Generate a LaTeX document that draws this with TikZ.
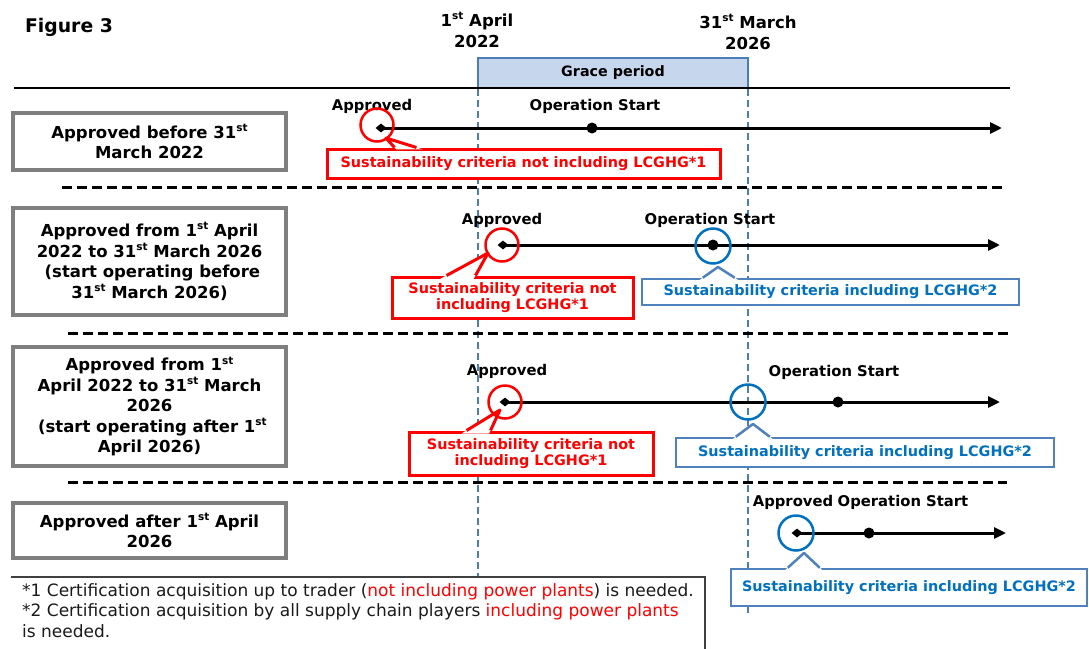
\documentclass[tikz,border=0pt]{standalone}
\usepackage{fontspec}
\setmainfont{DejaVu Sans}
\usetikzlibrary{arrows.meta,shapes.geometric,calc}
\definecolor{bxgray}{HTML}{7F7F7F}
\definecolor{myred}{HTML}{FF0000}
\definecolor{cblue}{HTML}{0070C0}
\definecolor{bblue}{HTML}{4F81BD}
\definecolor{gfill}{HTML}{C6D6EC}
\definecolor{dblue}{HTML}{4A7EBB}
\definecolor{ftext}{HTML}{1A1A1A}
\newcommand\myLf{\fontsize{16.5}{20.5}\selectfont\bfseries}
\newcommand\myTf{\fontsize{14.8}{18}\selectfont\bfseries}
\newcommand\myCf{\fontsize{14.4}{16}\selectfont\bfseries}
\newcommand\myNf{\fontsize{17}{20.5}\selectfont}
\newcommand\sst{\raisebox{0.42em}{\fontsize{10.5}{10.5}\selectfont\bfseries st}}
\begin{document}
\begin{tikzpicture}[x=1pt,y=-1pt,
  lbox/.style={draw=bxgray, line width=3.5, fill=white, inner sep=0, align=center, font=\myLf, minimum width=273},
  hd/.style={font=\myLf, align=center, inner sep=0},
  tlab/.style={font=\myTf, inner sep=0},
  tline/.style={line width=3, -{Triangle[length=12,width=11]}},
  dia/.style={diamond, fill=black, inner sep=0, minimum width=11, minimum height=9},
  tdot/.style={circle, fill=black, inner sep=0, minimum size=11},
  redc/.style={circle, draw=myred, line width=2.5, inner sep=0, minimum size=33},
  bluec/.style={circle, draw=cblue, line width=2.5, inner sep=0, minimum size=35},
  rbox/.style={draw=myred, line width=3, fill=white, inner sep=0, align=center, font=\myCf, text=myred},
  bbox/.style={draw=bblue, line width=2.5, fill=white, inner sep=0, font=\myCf, text=cblue},
  rwedge/.style={draw=myred, line width=3, line join=round},
  bwedge/.style={draw=bblue, line width=2.5, line join=round},
  sepline/.style={line width=3, dash pattern=on 10 off 5},
  vdash/.style={draw=dblue, line width=2.3, dash pattern=on 7 off 4},
  fnt/.style={font=\myNf, text=ftext, inner sep=0, anchor=base west}
]
\useasboundingbox (0,0) rectangle (1089,648);

% headings
\node[font=\fontsize{18.8}{22}\selectfont\bfseries, inner sep=0] (fig) at (69,27) {Figure 3};
\node[hd] (h1) at (477,30) {1\sst{} April\\2022};
\node[hd] (h2) at (748,32) {31\sst{} March\\2026};

% grace period
\node[draw=dblue, line width=2, fill=gfill, minimum width=270, minimum height=30, inner sep=0,
      font=\fontsize{14.3}{16}\selectfont\bfseries] (gp) at (613,73) {Grace period};

% vertical dashed lines
\coordinate (v1a) at (478,89);
\coordinate (v1b) at (478,577);
\coordinate (v2a) at (748,89);
\coordinate (v2b) at (748,613);
\draw[vdash] (v1a) -- (v1b);
\draw[vdash] (v2a) -- (v2b);

% top line
\coordinate (t0) at (14,88);
\coordinate (t1) at (1010,88);
\draw[line width=2] (t0) -- (t1);

% separators
\coordinate (s1a) at (62,187);  \coordinate (s1b) at (1003,187);
\coordinate (s2a) at (68,333);  \coordinate (s2b) at (1010,333);
\coordinate (s3a) at (68,482);  \coordinate (s3b) at (1007,482);
\draw[sepline] (s1a) -- (s1b);
\draw[sepline] (s2a) -- (s2b);
\draw[sepline] (s3a) -- (s3b);

% label boxes
\node[lbox, minimum height=57] (L1) at (149.5,141.5) {Approved before 31\sst\\March 2022};
\node[lbox, minimum height=107] (L2) at (149.5,261.5) {Approved from 1\sst{} April\\2022 to 31\sst{} March 2026\\ \ (start operating before\\31\sst{} March 2026)};
\node[lbox, minimum height=119] (L3) at (149.5,406.5) {Approved from 1\sst\\April 2022 to 31\sst{} March\\2026\\ \ (start operating after 1\sst\\April 2026)};
\node[lbox, minimum height=55] (L4) at (149.5,530.5) {Approved after 1\sst{} April\\2026};

% ---------- row 1 ----------
\node[tlab] (ap1) at (372,106) {Approved};
\node[tlab] (op1) at (595,106) {Operation Start};
\node[dia] (a1) at (381,128) {};
\coordinate (e1) at (1002,128);
\draw[tline] (a1.center) -- (e1);
\node[tdot] (o1) at (592,128) {};
\node[rbox, minimum width=393, minimum height=29] (rb1) at (523.5,163.5) {Sustainability criteria not including LCGHG*1};
\coordinate (r1t) at (386,138);
\coordinate (r1a) at ($(rb1.north west)+(69,0)$);
\coordinate (r1b) at ($(rb1.north west)+(91,0)$);
\fill[white] ($(r1t)!1.2!(r1a)$) -- (r1t) -- ($(r1t)!1.2!(r1b)$) -- cycle;
\draw[rwedge] (r1a) -- (r1t) -- (r1b);
\node[redc] (rc1) at (377,125) {};

% ---------- row 2 ----------
\node[tlab] (ap2) at (502,220) {Approved};
\node[tlab] (op2) at (710,220) {Operation Start};
\node[dia] (a2) at (503,245) {};
\coordinate (e2) at (1000,245);
\draw[tline] (a2.center) -- (e2);
\node[tdot] (o2) at (713,245) {};
\node[rbox, minimum width=241, minimum height=41] (rb2) at (512.5,297.5) {Sustainability criteria not\\including LCGHG*1};
\coordinate (r2t) at (488,253);
\coordinate (r2a) at ($(rb2.north west)+(56,0)$);
\coordinate (r2b) at ($(rb2.north west)+(85,0)$);
\fill[white] ($(r2t)!1.15!(r2a)$) -- (r2t) -- ($(r2t)!1.15!(r2b)$) -- cycle;
\draw[rwedge] (r2a) -- (r2t) -- (r2b);
\node[redc] (rc2) at (502,245) {};
\node[bbox, minimum width=377, minimum height=26] (bb2) at (830.5,292) {Sustainability criteria including LCGHG*2};
\coordinate (b2t) at (718,267);
\coordinate (b2a) at ($(bb2.north west)+(62,0)$);
\coordinate (b2b) at ($(bb2.north west)+(94,0)$);
\fill[white] ($(b2t)!1.2!(b2a)$) -- (b2t) -- ($(b2t)!1.2!(b2b)$) -- cycle;
\draw[bwedge] (b2a) -- (b2t) -- (b2b);
\node[bluec] (bc2) at (713,246) {};

% ---------- row 3 ----------
\node[tlab] (ap3) at (507,371) {Approved};
\node[tlab] (op3) at (834,372) {Operation Start};
\node[dia] (a3) at (505,402) {};
\coordinate (e3) at (1000,402);
\draw[tline] (a3.center) -- (e3);
\node[tdot] (o3) at (838,402) {};
\node[rbox, minimum width=244, minimum height=43] (rb3) at (531,453.5) {Sustainability criteria not\\including LCGHG*1};
\coordinate (r3t) at (500,410);
\coordinate (r3a) at ($(rb3.north west)+(59,0)$);
\coordinate (r3b) at ($(rb3.north west)+(83,0)$);
\fill[white] ($(r3t)!1.15!(r3a)$) -- (r3t) -- ($(r3t)!1.15!(r3b)$) -- cycle;
\draw[rwedge] (r3a) -- (r3t) -- (r3b);
\node[redc] (rc3) at (505,402) {};
\node[bbox, minimum width=378, minimum height=29] (bb3) at (865,452.5) {Sustainability criteria including LCGHG*2};
\coordinate (b3t) at (753,424);
\coordinate (b3a) at ($(bb3.north west)+(61,0)$);
\coordinate (b3b) at ($(bb3.north west)+(95,0)$);
\fill[white] ($(b3t)!1.2!(b3a)$) -- (b3t) -- ($(b3t)!1.2!(b3b)$) -- cycle;
\draw[bwedge] (b3a) -- (b3t) -- (b3b);
\node[bluec] (bc3) at (748,402) {};

% ---------- row 4 ----------
\node[tlab] (ap4) at (793,502) {Approved};
\node[tlab] (op4) at (903,502) {Operation Start};
\node[dia] (a4) at (797,533) {};
\coordinate (e4) at (1006,533);
\draw[tline] (a4.center) -- (e4);
\node[tdot] (o4) at (869,533) {};
\node[bbox, minimum width=356, minimum height=37] (bb4) at (909,587.5) {Sustainability criteria including LCGHG*2};
\coordinate (b4t) at (804,553);
\coordinate (b4a) at ($(bb4.north west)+(58,0)$);
\coordinate (b4b) at ($(bb4.north west)+(90,0)$);
\fill[white] ($(b4t)!1.15!(b4a)$) -- (b4t) -- ($(b4t)!1.15!(b4b)$) -- cycle;
\draw[bwedge] (b4a) -- (b4t) -- (b4b);
\node[bluec] (bc4) at (796,533) {};

% ---------- footnote ----------
\coordinate (fa) at (11,577);
\coordinate (fb) at (705,577);
\coordinate (fc) at (705,649);
\draw[draw=black!75, line width=1.5] (fa) -- (fb) -- (fc);
\node[fnt] (fn1) at (22,596) {*1 Certification acquisition up to trader (\textcolor{myred}{not including power plants}) is needed.};
\node[fnt] (fn2) at (22,616.5) {*2 Certification acquisition by all supply chain players \textcolor{myred}{including power plants}};
\node[fnt] (fn3) at (22,637) {is needed.};
\end{tikzpicture}
\end{document}
